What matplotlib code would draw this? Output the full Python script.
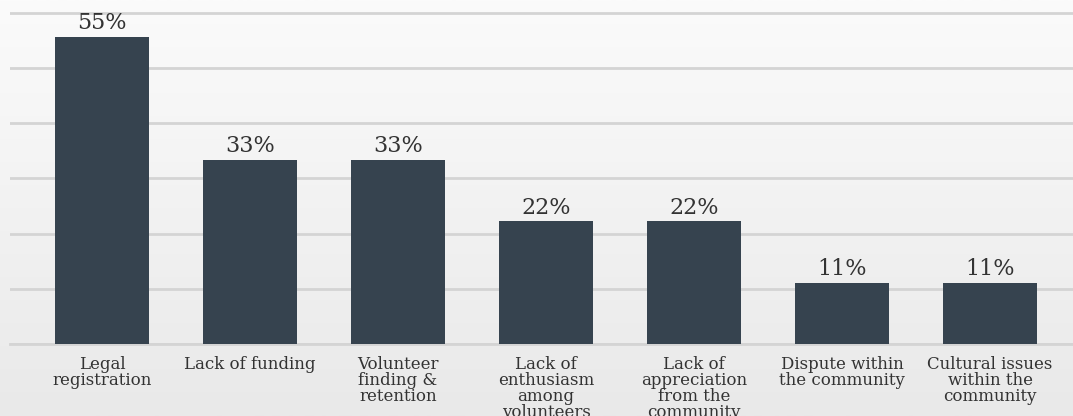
import numpy as np
import matplotlib.pyplot as plt
from matplotlib.colors import LinearSegmentedColormap

categories = ["Legal\nregistration", "Lack of funding", "Volunteer\nfinding &\nretention",
              "Lack of\nenthusiasm\namong\nvolunteers", "Lack of\nappreciation\nfrom the\ncommunity",
              "Dispute within\nthe community", "Cultural issues\nwithin the\ncommunity"]
values = [55.6, 33.3, 33.3, 22.2, 22.2, 11.1, 11.1]

W, H = 1073, 416
fig = plt.figure(figsize=(W / 100, H / 100), dpi=100)

# background gradient
bg = fig.add_axes([0, 0, 1, 1], zorder=-10)
grad = np.linspace(0, 1, 256).reshape(-1, 1)
bg.imshow(grad, aspect="auto", cmap=LinearSegmentedColormap.from_list("bg", ["#fbfbfb", "#e9e9e9"]),
          extent=[0, 1, 0, 1], origin="upper")
bg.axis("off")

y0 = 344
ppu = 5.52
ymax = 61
ax = fig.add_axes([10 / W, 1 - y0 / H, 1 - 10 / W, ymax * ppu / H])
ax.patch.set_alpha(0)

x = np.arange(len(values))
ax.bar(x, values, width=0.635, color="#36434f", zorder=3)
for xi, v in zip(x, values):
    ax.text(xi, v + 0.5, f"{int(v)}%", ha="center", va="bottom",
            fontsize=16, family="DejaVu Serif", color="#333333", zorder=4)

ax.set_xlim(-0.622, 6.56)
ax.set_ylim(0, ymax)
ax.set_yticks(np.arange(0, 61, 10))
ax.yaxis.grid(True, color="#d4d4d4", linewidth=2, zorder=0)
ax.axhline(0, color="#d4d4d4", linewidth=2, clip_on=False, zorder=1)
ax.tick_params(left=False, labelleft=False, bottom=False)
ax.set_xticks(x)
ax.set_xticklabels(categories, fontsize=12, family="DejaVu Serif", color="#333333",
                   linespacing=0.92)
ax.tick_params(axis="x", pad=5)
for s in ax.spines.values():
    s.set_visible(False)

fig.savefig("out.png", dpi=100)
